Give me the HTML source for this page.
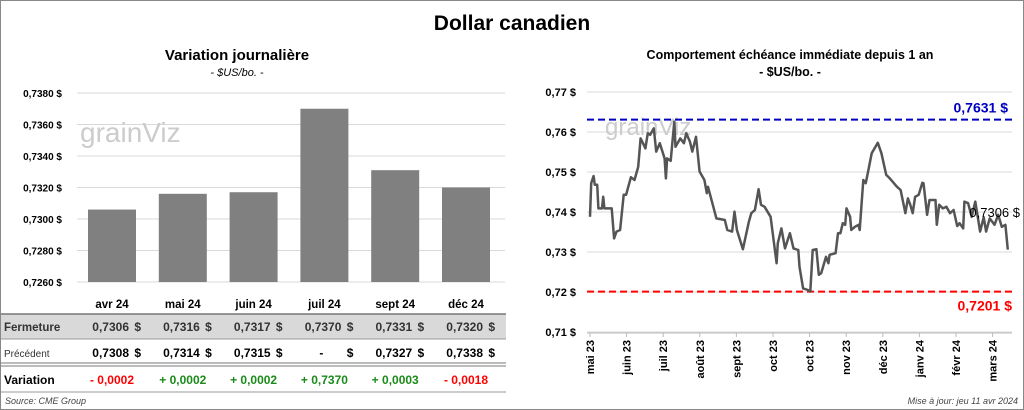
<!DOCTYPE html>
<html><head><meta charset="utf-8">
<style>
body{margin:0;background:#fff;font-family:"Liberation Sans",sans-serif;}
#wrap{position:relative;width:1024px;height:410px;overflow:hidden;}
svg text{font-family:"Liberation Sans",sans-serif;}
</style></head>
<body>
<div id="wrap">
<svg id="svg" width="1024" height="410" xmlns="http://www.w3.org/2000/svg">
<rect x="0.5" y="0.5" width="1023" height="409" fill="#fff" stroke="#888"/>
<text x="512" y="30" text-anchor="middle" font-size="21" font-weight="bold">Dollar canadien</text>
<text x="237" y="60" text-anchor="middle" font-size="15" font-weight="bold">Variation  journalière</text>
<text x="237" y="76" text-anchor="middle" font-size="11" font-style="italic">- $US/bo. -</text>
<text x="790" y="59" text-anchor="middle" font-size="12.5" font-weight="bold">Comportement échéance immédiate depuis 1 an</text>
<text x="790" y="76" text-anchor="middle" font-size="12.5" font-weight="bold">- $US/bo. -</text>
<g id="left"></g>
<g id="table"></g>
<g id="right"></g>
<text x="5" y="404" font-size="9" font-style="italic" fill="#444">Source: CME Group</text>
<text x="1018" y="404" text-anchor="end" font-size="9" font-style="italic" fill="#444">Mise à jour: jeu 11 avr 2024</text>
</svg>
</div>
<script>
const barCategories=["avr 24","mai 24","juin 24","juil 24","sept 24","déc 24"];
const closeValues=[0.7306,0.7316,0.7317,0.7370,0.7331,0.7320];
const prevValues=[0.7308,0.7314,0.7315,null,0.7327,0.7338];
const variationValues=[-0.0002,0.0002,0.0002,0.7370,0.0003,-0.0018];
const barTicks=[0.7260,0.7280,0.7300,0.7320,0.7340,0.7360,0.7380];

const lineDays=[0,1,3,4,6,7,10,11,12,18,20,22,25,28,30,34,37,40,42,44,46,48,50,53,55,58,62,63,64,67,70,71,75,78,80,83,85,88,91,95,97,98,102,105,112,114,118,120,122,127,132,134,137,140,142,145,150,155,156,159,162,166,169,173,174,177,181,183,185,188,190,192,196,198,199,204,206,208,210,212,213,216,217,220,223,224,227,229,231,234,239,242,246,249,255,258,262,264,266,268,270,273,276,277,280,282,287,288,290,293,296,299,302,305,307,310,311,314,317,320,324,327,329,332,336,339,342,345,347];
const lineValues=[0.7388,0.7472,0.7490,0.7468,0.7468,0.7409,0.7409,0.7438,0.7409,0.7409,0.7334,0.7351,0.7355,0.7443,0.7443,0.7487,0.7480,0.7513,0.7584,0.7572,0.7559,0.7597,0.7593,0.7609,0.7551,0.7572,0.7534,0.7484,0.7534,0.7528,0.7626,0.7563,0.7584,0.7572,0.7597,0.7576,0.7551,0.7588,0.7501,0.7480,0.7447,0.7463,0.7418,0.7384,0.7380,0.7355,0.7351,0.7401,0.7355,0.7307,0.7376,0.7397,0.7405,0.7457,0.7418,0.7413,0.7388,0.7272,0.7322,0.7359,0.7309,0.7347,0.7309,0.7305,0.7263,0.7209,0.7205,0.7201,0.7305,0.7307,0.7243,0.7247,0.7288,0.7272,0.7293,0.7297,0.7347,0.7347,0.7372,0.7368,0.7409,0.7388,0.7355,0.7363,0.7368,0.7355,0.7480,0.7472,0.7501,0.7547,0.7573,0.7547,0.7493,0.7484,0.7463,0.7455,0.7397,0.7434,0.7418,0.7397,0.7438,0.7443,0.7473,0.7472,0.7393,0.7430,0.7430,0.7368,0.7418,0.7409,0.7413,0.7397,0.7405,0.7365,0.7372,0.7359,0.7426,0.7422,0.7388,0.7426,0.7351,0.7387,0.7351,0.7384,0.7368,0.7393,0.7363,0.7368,0.7306];
const lineTicks=[0.71,0.72,0.73,0.74,0.75,0.76,0.77];
const monthLabels=["mai 23","juin 23","juil 23","août 23","sept 23","oct 23","oct 23","nov 23","déc 23","janv 24","févr 24","mars 24"];
const highValue=0.7631, lowValue=0.7201;

const NS="http://www.w3.org/2000/svg";
function mk(tag,attrs,parent,txt){const e=document.createElementNS(NS,tag);for(const k in attrs)e.setAttribute(k,attrs[k]);if(txt!=null)e.textContent=txt;parent.appendChild(e);return e;}
const fmt=(v,d)=>v.toFixed(d).replace('.',',');

// LEFT BAR CHART
const L=document.getElementById('left');
const yB=v=>282-(v-0.7260)/0.0120*189;
const xB=i=>112+i*70.8;
barTicks.forEach(t=>{
 const g=mk('line',{x1:77,x2:505,y1:yB(t),y2:yB(t),stroke:'#d9d9d9','stroke-width':1},L);
 
 
 const tx=mk('text',{x:62,y:yB(t)+4,'text-anchor':'end','font-size':10,'font-weight':'bold'},L,fmt(t,4)+' $');
 
 
});
const wm1=mk('text',{x:80,y:142,'font-size':28,fill:'#ccc'},L,'grainViz');


closeValues.forEach((v,i)=>{
 const r=mk('rect',{x:xB(i)-24,y:yB(v),width:48,height:282-yB(v),fill:'#808080'},L);
 
 
 const c=mk('text',{x:xB(i),y:308,'text-anchor':'middle','font-size':11.5,'font-weight':'bold'},L,barCategories[i]);
 
 
});

// TABLE
const T=document.getElementById('table');
const bg=mk('rect',{x:1,y:314,width:505,height:25,fill:'#d9d9d9'},T);


[[1,314,1.5,'#777'],[1,339,1,'#999'],[1,363,1,'#777'],[1,366,1,'#777'],[1,392,1,'#999']].forEach(a=>{
 const l=mk('line',{x1:a[0],x2:506,y1:a[1],y2:a[1],stroke:a[3],'stroke-width':a[2]},T);
 
 
});
const rl1=mk('text',{x:4,y:331,'font-size':11.5,'font-weight':'bold',fill:'#333'},T,'Fermeture');


const rl2=mk('text',{x:4,y:357,'font-size':10,fill:'#333'},T,'Précédent');


const rl3=mk('text',{x:4,y:384,'font-size':12,'font-weight':'bold'},T,'Variation');


closeValues.forEach((v,i)=>{
 const cx=xB(i);
 const a=mk('text',{x:cx+17,y:331,'text-anchor':'end','font-size':12,'font-weight':'bold',fill:'#333'},T,fmt(v,4));
 
 
 const a2=mk('text',{x:cx+29,y:331,'text-anchor':'end','font-size':12,'font-weight':'bold',fill:'#333'},T,'$');
 
 
 const p=prevValues[i];
 const b=mk('text',{x:cx+(p==null?-1:17),y:357,'text-anchor':'end','font-size':12,'font-weight':'bold'},T,p==null?'-':fmt(p,4));
 
 
 const b2=mk('text',{x:cx+29,y:357,'text-anchor':'end','font-size':12,'font-weight':'bold'},T,'$');
 
 
 const d=variationValues[i];
 const s=(d<0?'- ':'+ ')+fmt(Math.abs(d),4);
 const c=mk('text',{x:cx,y:384,'text-anchor':'middle','font-size':12,'font-weight':'bold',fill:d<0?'#ff0000':'#1a8a1a'},T,s);
 
 
});

// RIGHT LINE CHART
const R=document.getElementById('right');
const yL=v=>332-(v-0.71)/0.06*240;
const xL=d=>590+d*1.204;
lineTicks.forEach(t=>{
 const g=mk('line',{x1:587,x2:1012,y1:yL(t),y2:yL(t),stroke:'#d9d9d9','stroke-width':1},R);
 
 
 const tx=mk('text',{x:576,y:yL(t)+4,'text-anchor':'end','font-size':11,'font-weight':'bold'},R,fmt(t,2)+' $');
 
 
});
const ax=mk('line',{x1:587,x2:1012,y1:333,y2:333,stroke:'#bbb'},R);


monthLabels.forEach((m,i)=>{
 const x=590+i*36.6;
 const tk=mk('line',{x1:x,x2:x,y1:333,y2:337,stroke:'#bbb'},R);
 
 
 const t=mk('text',{x:0,y:0,'text-anchor':'end','font-size':11,'font-weight':'bold',transform:`translate(${x+4},340) rotate(-90)`},R,m);
 
 
});
const wm2=mk('text',{x:605,y:135,'font-size':24,fill:'#ccc'},R,'grainViz');


const hi=mk('line',{x1:587,x2:1012,y1:yL(highValue),y2:yL(highValue),stroke:'#0000c0','stroke-width':2,'stroke-dasharray':'7,4'},R);


const lo=mk('line',{x1:587,x2:1012,y1:yL(lowValue),y2:yL(lowValue),stroke:'#ff0000','stroke-width':2,'stroke-dasharray':'7,4'},R);


const hl=mk('text',{x:1008,y:yL(highValue)-7,'text-anchor':'end','font-size':14,'font-weight':'bold',fill:'#0000c0'},R,fmt(highValue,4)+' $');


const ll=mk('text',{x:1012,y:yL(lowValue)+19,'text-anchor':'end','font-size':14,'font-weight':'bold',fill:'#ff0000'},R,fmt(lowValue,4)+' $');


const pts=lineDays.map((d,i)=>xL(d).toFixed(1)+','+yL(lineValues[i]).toFixed(1)).join(' ');
const pl=mk('polyline',{points:pts,fill:'none',stroke:'#555','stroke-width':2.5,'stroke-linejoin':'round'},R);


const last=lineValues[lineValues.length-1];
const lt=mk('text',{x:1020,y:217,'text-anchor':'end','font-size':13},R,fmt(last,4)+' $');


</script>
</body></html>
